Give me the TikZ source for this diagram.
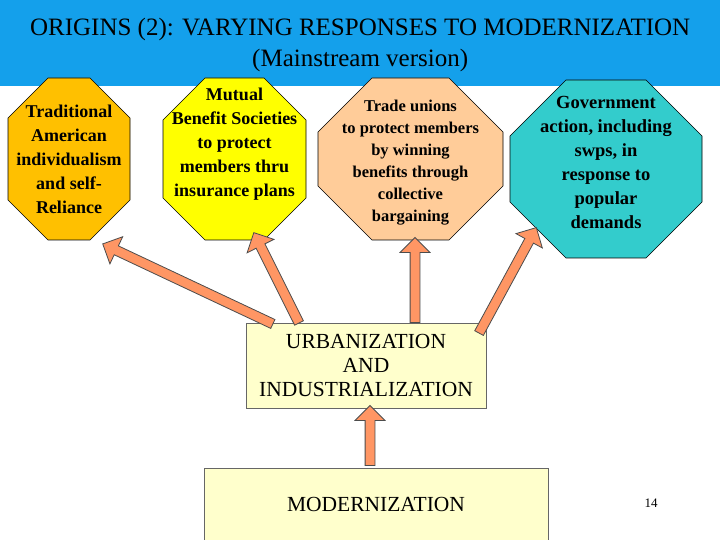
\documentclass[tikz,border=0pt]{standalone}
\usepackage{fontspec}
\setmainfont{Liberation Serif}
\usetikzlibrary{shapes.arrows}
\definecolor{titleblue}{RGB}{20,160,235}
\definecolor{octorange}{RGB}{255,192,0}
\definecolor{octyellow}{RGB}{255,255,0}
\definecolor{octpeach}{RGB}{255,204,153}
\definecolor{octteal}{RGB}{51,204,204}
\definecolor{boxyellow}{RGB}{255,255,204}
\definecolor{arrowfill}{RGB}{255,150,100}
\newcommand{\myocto}[6]{% x1 ytop x2 ybot chamfer color
  \draw[fill=#6, draw=black, line width=0.6pt]
   ({#1+#5},#2) -- ({#3-#5},#2) -- (#3,{#2-#5}) -- (#3,{#4+#5}) -- ({#3-#5},#4) -- ({#1+#5},#4) -- (#1,{#4+#5}) -- (#1,{#2-#5}) -- cycle;}
\tikzset{
  octtext/.style={align=center, font=\bfseries\fontsize{#1}{24}\selectfont, inner sep=0pt},
  box/.style={rectangle, draw=black!60, line width=0.8pt, fill=boxyellow, align=center, font=\fontsize{21.5}{24}\selectfont},
  barrow/.style={single arrow, draw=black!70, fill=arrowfill, line width=0.8pt, minimum width=30pt, single arrow head extend=7pt, single arrow head indent=0pt, inner sep=3pt, anchor=center}
}
\begin{document}
\begin{tikzpicture}[x=1pt,y=1pt]
\useasboundingbox (0,0) rectangle (720,540);
\fill[white] (0,0) rectangle (720,540);
\node[rectangle, fill=titleblue, minimum width=720pt, minimum height=82pt, anchor=north west, inner sep=0pt, align=center, font=\fontsize{25}{31}\selectfont] (title) at (0,536) {ORIGINS (2): VARYING RESPONSES TO MODERNIZATION\\(Mainstream version)};
\fill[titleblue] (0,536) rectangle (720,540);
\myocto{8}{462}{130}{300}{40}{octorange}
\myocto{163}{462}{306}{300}{42}{octyellow}
\myocto{318}{462}{503}{300}{54}{octpeach}
\myocto{510}{460}{702}{282}{56}{octteal}
\node[octtext=18] (o1) at (69,381) {Traditional\\American\\individualism\\and self-\\Reliance};
\node[octtext=18] (o2) at (234.5,396) {Mutual\\Benefit Societies\\to protect\\members thru\\insurance plans};
\node[octtext=16.5, font=\bfseries\fontsize{16.5}{22}\selectfont] (o3) at (410.5,377) {Trade unions\\to protect members\\by winning\\benefits through\\collective\\bargaining};
\node[octtext=18.5] (o4) at (606,378) {Government\\action, including\\swps, in\\response to\\popular\\demands};
\node[box, minimum width=240pt, minimum height=85pt] (urb) at (366,174.5) {URBANIZATION\\AND\\INDUSTRIALIZATION};
\node[box, minimum width=344pt, minimum height=74pt, anchor=north west] (mod) at (204,72) {};
\node[font=\fontsize{21.5}{24}\selectfont] (modt) at (376,36) {MODERNIZATION};
\node[font=\fontsize{13}{16}\selectfont] (pg) at (651,37) {14};
\node[barrow, minimum height=188pt, rotate=154.8] (a1) at (190,255) {};
\node[barrow, minimum height=101pt, rotate=116.6] (a2) at (277.5,260) {};
\node[barrow, minimum height=85pt, rotate=90] (a3) at (415,257.5) {};
\node[barrow, minimum height=120pt, rotate=61.5] (a4) at (506.5,257.5) {};
\node[barrow, minimum height=60pt, rotate=90] (a5) at (370,102) {};
\end{tikzpicture}
\end{document}
